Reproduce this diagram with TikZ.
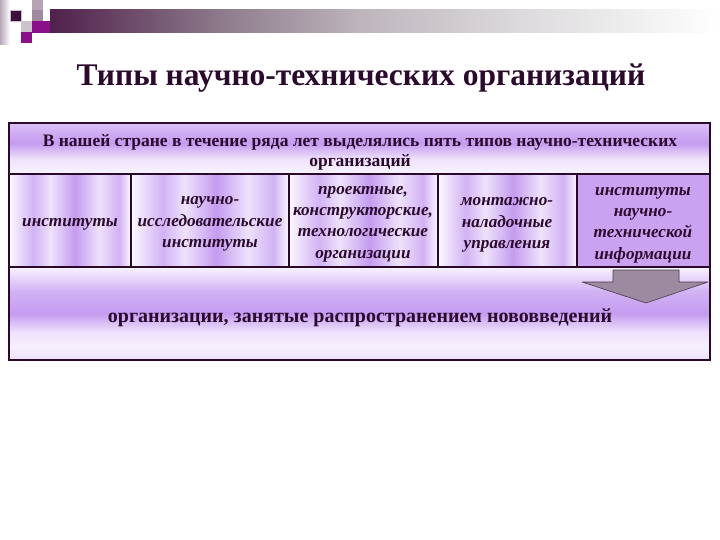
\documentclass[tikz,border=0pt]{standalone}
\usepackage{fontspec}
\setmainfont{Liberation Serif}
\definecolor{ink}{HTML}{2C0A2E}
\definecolor{frame}{HTML}{2A0A2A}
\definecolor{lavA}{HTML}{D2B2F4}
\definecolor{lavB}{HTML}{C49CF0}
\definecolor{lavC}{HTML}{EEE2FB}
\definecolor{lavSolid}{HTML}{C9A2F2}
\definecolor{arrowfill}{HTML}{9C8AA0}
\definecolor{arrowline}{HTML}{4A3A4A}
\definecolor{barA}{HTML}{50204C}
\definecolor{barB}{HTML}{8E7C8C}
\definecolor{barC}{HTML}{BDB4BC}
\definecolor{barD}{HTML}{DCDADC}
\definecolor{decoA}{HTML}{B8A8B8}
\definecolor{decoB}{HTML}{B4A4B4}
\definecolor{decoDark}{HTML}{3C103C}
\definecolor{decoEdge}{HTML}{C8B8C8}
\definecolor{decoC}{HTML}{A08AA0}
\definecolor{decoD}{HTML}{CCC4CC}
\definecolor{decoMag}{HTML}{8A108A}
\pgfdeclarehorizontalshading{cellshade}{100bp}{color(0bp)=(white!92!lavA); color(25bp)=(white!92!lavA); color(35bp)=(lavA); color(42bp)=(lavC); color(52bp)=(lavB); color(62bp)=(lavC); color(70bp)=(lavA); color(75bp)=(white!90!lavA); color(100bp)=(white!90!lavA)}
\pgfdeclareverticalshading{headshade}{100bp}{color(0bp)=(white!85!lavA); color(25bp)=(white!85!lavA); color(40bp)=(lavC); color(55bp)=(lavB); color(68bp)=(lavA); color(75bp)=(lavA!80!white); color(100bp)=(lavA!80!white)}
\pgfdeclareverticalshading{botshade}{100bp}{color(0bp)=(lavC); color(25bp)=(lavC); color(32bp)=(white!80!lavA); color(40bp)=(lavC); color(50bp)=(lavB); color(62bp)=(lavA); color(75bp)=(white!85!lavA); color(100bp)=(white!85!lavA)}
\pgfdeclarehorizontalshading{barshade}{100bp}{color(0bp)=(barA); color(25bp)=(barA); color(38bp)=(barB); color(48bp)=(barC); color(60bp)=(barD); color(75bp)=(white); color(100bp)=(white)}
\tikzset{
  cell/.style={draw=frame, line width=1.6pt, shading=cellshade},
  celltext/.style={text=ink, font=\fontsize{17.2}{21.3}\selectfont\bfseries\itshape, align=center},
}
\begin{document}
\begin{tikzpicture}[x=1pt,y=-1pt]
\useasboundingbox (0,0) rectangle (720,540);
% top-left decoration
\shade[left color=decoA, right color=white] (0,0) rectangle (10,45);
\fill[decoB] (32,0) rectangle (43,10);
\fill[decoDark] (10,10) rectangle (21,21);
\draw[decoEdge, line width=0.8pt] (10,10) rectangle (21,21);
\fill[decoC] (32,10) rectangle (43,21);
\fill[decoD] (21,21) rectangle (32,32);
\fill[decoMag] (32,21) rectangle (50,33);
\fill[decoMag] (21,32) rectangle (32,43);
\shade[shading=barshade] (50,10) rectangle (720,33);
% title
\node[text=ink, font=\fontsize{31.5}{36}\selectfont\bfseries] (title) at (361,78) {Типы научно-технических организаций};
% header
\path[cell, shading=headshade] (9,123) rectangle (710,174);
\node[text=ink, font=\fontsize{17.5}{20}\selectfont\bfseries, align=center] (head) at (360,152)
  {В нашей стране в течение ряда лет выделялись пять типов научно-технических\\организаций};
% cells
\path[cell] (9,174) rectangle (131,267);
\path[cell] (131,174) rectangle (289,267);
\path[cell] (289,174) rectangle (438,267);
\path[cell] (438,174) rectangle (577,267);
\path[draw=frame, line width=1.6pt, fill=lavSolid] (577,174) rectangle (710,267);
\node[celltext] (c1) at (70,224) {институты};
\node[celltext] (c2) at (210,224) {научно-\\исследовательские\\институты};
\node[celltext] (c3) at (363,224) {проектные,\\конструкторские,\\технологические\\организации};
\node[celltext] (c4) at (507,225) {монтажно-\\наладочные\\управления};
\node[celltext] (c5) at (643,225) {институты\\научно-\\технической\\информации};
% bottom box
\path[cell, shading=botshade] (9,267) rectangle (710,360);
\node[text=ink, font=\fontsize{20}{24}\selectfont\bfseries] (bot) at (360,318) {организации, занятые распространением нововведений};
% arrow
\draw[fill=arrowfill, draw=arrowline, line width=0.6pt, line join=round]
  (613,270) -- (679,270) -- (679,282) -- (708,282) -- (646,303) -- (582,282) -- (613,282) -- cycle;
\end{tikzpicture}
\end{document}
